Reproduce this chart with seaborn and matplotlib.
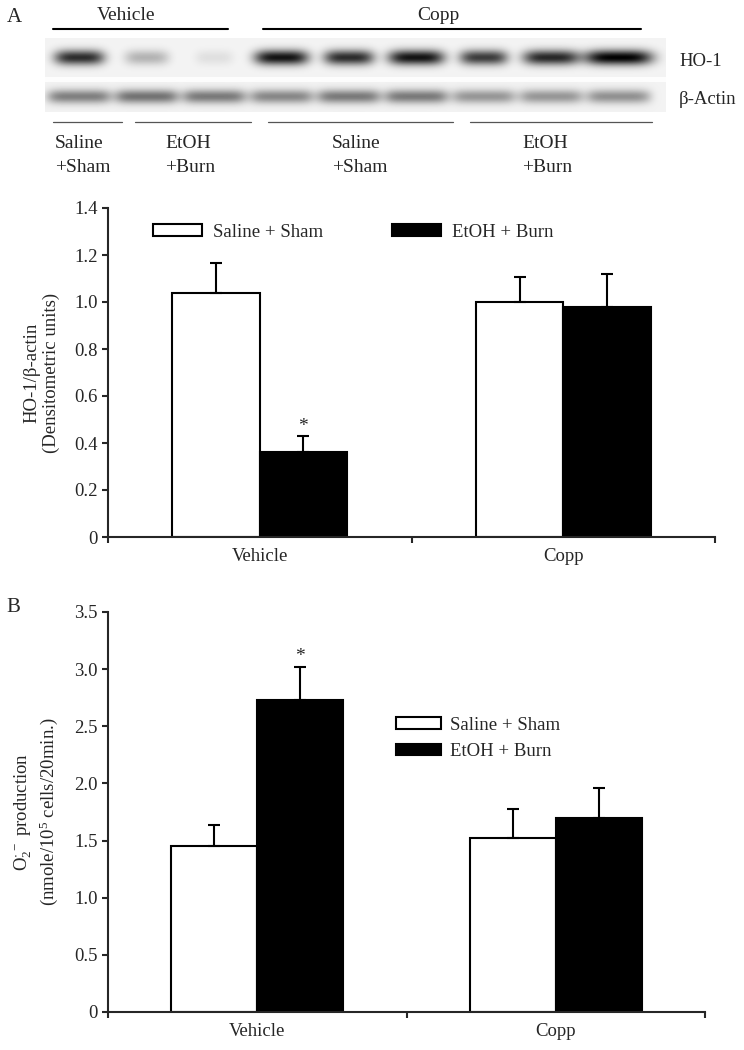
import matplotlib
matplotlib.use('Agg')
import matplotlib.pyplot as plt
import numpy as np
import pandas as pd
import seaborn as sns

# ---- data -----------------------------------------------------------------
groups = ['Vehicle', 'Copp']
treatments = ['Saline + Sham', 'EtOH + Burn']

# panel A: HO-1 / beta-actin densitometry (mean, SEM), order = groups
ho1_sham = [1.04, 1.00]
ho1_sham_err = [0.125, 0.105]
ho1_burn = [0.36, 0.98]
ho1_burn_err = [0.07, 0.14]
ho1_sig = [[False, False], [True, False]]

# panel B: superoxide production (mean, SEM)
o2_sham = [1.45, 1.52]
o2_sham_err = [0.19, 0.26]
o2_burn = [2.73, 1.70]
o2_burn_err = [0.29, 0.26]
o2_sig = [[False, False], [True, False]]

# western blot band intensities (9 lanes, 0 = none, 1 = saturated)
ho1_bands = [0.78, 0.25, 0.08, 0.88, 0.78, 0.88, 0.72, 0.8, 0.95]
actin_bands = [0.45, 0.5, 0.47, 0.42, 0.47, 0.47, 0.36, 0.36, 0.38]
lane_top = ['Saline', 'EtOH', 'Saline', 'EtOH']
lane_bottom = ['+Sham', '+Burn', '+Sham', '+Burn']

sns.set_style('ticks')
plt.rcParams['font.family'] = ['Liberation Serif', 'DejaVu Serif']
plt.rcParams['mathtext.fontset'] = 'custom'
plt.rcParams['mathtext.rm'] = 'Liberation Serif'
plt.rcParams['axes.linewidth'] = 1.5

FS = 13.5

fig = plt.figure(figsize=(7.44, 10.5), dpi=100)


def px(x0, y0, x1, y1):
    # pixel box -> figure fraction rect
    W, H = 744, 1050
    return [x0 / W, 1 - y1 / H, (x1 - x0) / W, (y1 - y0) / H]


# ---- blot -----------------------------------------------------------------
bax = fig.add_axes([0, 0, 1, 1], zorder=0)
bax.set_xlim(0, 744)
bax.set_ylim(1050, 0)
bax.axis('off')

xs = np.arange(45, 666)[None, :].astype(float)
ys = np.arange(38, 112)[:, None].astype(float)
img = np.where(ys < 77, 0.955, np.where(ys < 82, 0.99, 0.95)) * np.ones_like(xs)
lane_x = np.linspace(79, 618, 9)
band_w = [50, 44, 38, 54, 50, 56, 48, 56, 68]
for c, w, lev in zip(lane_x, band_w, ho1_bands):
    img = img - lev * np.exp(-((xs - c) / (w / 2)) ** 4) * np.exp(-((ys - 57) / 7.5) ** 2)
for c, lev in zip(lane_x, actin_bands):
    img = img - lev * np.exp(-((xs - c) / 32) ** 6) * np.exp(-((ys - 96) / 7) ** 2)
img = np.clip(img, 0, 1)
bax.imshow(img, cmap='gray', vmin=0, vmax=1, extent=(45, 666, 112, 38),
           interpolation='bilinear', aspect='auto')

bax.text(14, 17, 'A', fontsize=15, ha='center', va='center')
bax.plot([53, 228], [29, 29], color='black', lw=1.5)
bax.plot([263, 641], [29, 29], color='black', lw=1.5)
bax.text(126, 15, 'Vehicle', fontsize=14, ha='center', va='center')
bax.text(438, 15, 'Copp', fontsize=14, ha='center', va='center')
bax.text(679, 62, 'HO-1', fontsize=13.5, ha='left', va='center')
bax.text(679, 100, 'β-Actin', fontsize=13.5, ha='left', va='center')
for (a, b), tx, t1, t2 in zip([(53, 122), (135, 251), (268, 453), (470, 652)],
                              [55, 165, 332, 522], lane_top, lane_bottom):
    bax.plot([a, b], [122, 122], color='#555555', lw=0.9)
    bax.text(tx, 148, t1, fontsize=14, ha='left', va='baseline')
    bax.text(tx, 172, t2, fontsize=14, ha='left', va='baseline')
bax.text(13, 608, 'B', fontsize=15, ha='center', va='center')


def bar_panel(ax, sham, sham_err, burn, burn_err, sig, ymax, step, capsize):
    df = pd.DataFrame({
        'group': groups * 2,
        'treatment': [treatments[0]] * 2 + [treatments[1]] * 2,
        'value': sham + burn,
    })
    sns.barplot(data=df, x='group', y='value', hue='treatment',
                palette=['white', 'black'], edgecolor='black', linewidth=1.5,
                width=0.575, errorbar=None, ax=ax)
    errs = [sham_err, burn_err]
    bar_sets = list(ax.containers)
    for k, cont in enumerate(bar_sets):
        for j, bar in enumerate(cont):
            xc = bar.get_x() + bar.get_width() / 2
            top = bar.get_height()
            ax.errorbar(xc, top, yerr=[[0], [errs[k][j]]], fmt='none',
                        ecolor='black', elinewidth=1.5, capsize=capsize,
                        capthick=1.5)
            if sig[k][j]:
                ax.annotate('*', (xc, top + errs[k][j]), xytext=(0, 1),
                            textcoords='offset points', ha='center',
                            va='bottom', fontsize=14)
    ax.set_xlim(-0.5, 1.5)
    ax.set_ylim(0, ymax)
    ticks = np.arange(0, ymax + step / 2, step)
    ax.set_yticks(ticks)
    ax.set_yticklabels(['0' if t == 0 else f'{t:.1f}' for t in ticks])
    ax.set_xticks([0, 1])
    ax.set_xticks([-0.5, 0.5, 1.5], minor=True)
    ax.tick_params(axis='x', which='major', length=0, pad=8, labelsize=FS)
    ax.tick_params(axis='x', which='minor', length=4, width=1.5, direction='out')
    ax.tick_params(axis='y', length=4, width=1.5, direction='out', labelsize=FS)
    ax.set_xlabel('')
    sns.despine(ax=ax)
    for s in ['left', 'bottom']:
        ax.spines[s].set_linewidth(1.5)


# ---- panel A --------------------------------------------------------------
axA = fig.add_axes(px(108, 208, 715, 537))
bar_panel(axA, ho1_sham, ho1_sham_err, ho1_burn, ho1_burn_err, ho1_sig,
          1.4, 0.2, 4.5)
axA.set_ylabel('HO-1/β-actin\n(Densitometric units)', fontsize=FS, labelpad=10)
h, l = axA.get_legend_handles_labels()
axA.legend(h, l, ncol=2, frameon=False, fontsize=FS, loc='center left',
           bbox_to_anchor=(0.074, 0.927), borderaxespad=0, borderpad=0,
           handlelength=2.6, handleheight=0.6, handletextpad=0.6,
           columnspacing=3.7)

# ---- panel B --------------------------------------------------------------
axB = fig.add_axes(px(108, 612, 705, 1012))
bar_panel(axB, o2_sham, o2_sham_err, o2_burn, o2_burn_err, o2_sig,
          3.5, 0.5, 4.0)
axB.set_ylabel('$\\mathregular{O_2^{\\cdot -}}$ production\n'
               '(nmole/$\\mathregular{10^5}$ cells/20min.)',
               fontsize=FS, labelpad=10)
h, l = axB.get_legend_handles_labels()
axB.legend(h, l, ncol=1, frameon=False, fontsize=FS, loc='center left',
           bbox_to_anchor=(0.482, 0.684), borderaxespad=0, borderpad=0,
           handlelength=2.4, handleheight=0.55, handletextpad=0.5,
           labelspacing=0.5)

fig.savefig('out.png', dpi=100)
